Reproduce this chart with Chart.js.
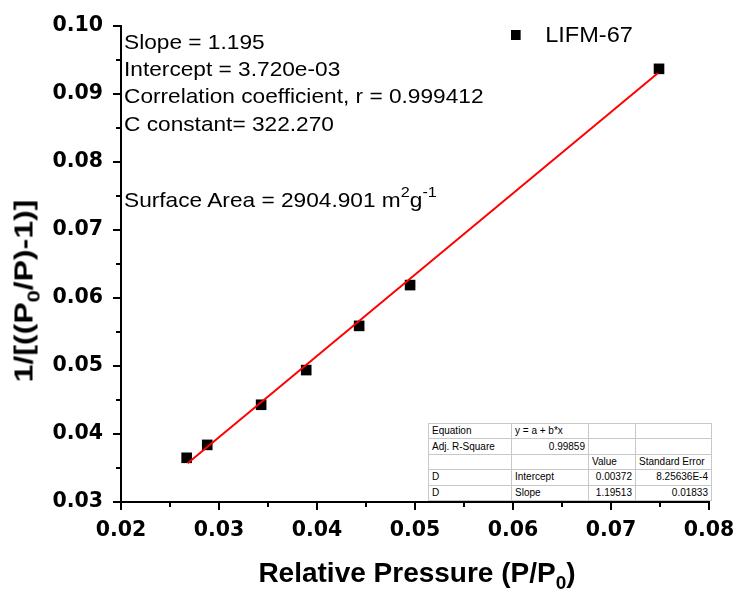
<!DOCTYPE html>
<html>
<head>
<meta charset="utf-8">
<script src="https://cdn.jsdelivr.net/npm/chart.js@4"></script>
<style>
  body{margin:0;background:#fff;font-family:"Liberation Sans",Arial,sans-serif}
  #wrap{position:relative;width:742px;height:597px}
  canvas{position:absolute;left:0;top:0}
  .ann{position:absolute;left:124px;font-size:21px;color:#000;white-space:nowrap;line-height:1;transform:scaleX(1.08);transform-origin:left center}
  .ann sup{font-size:15px;vertical-align:10px}
  #ytitle{position:absolute;left:27px;top:291px;transform:translate(-50%,-50%) rotate(-90deg) scaleX(1.28);font-weight:bold;font-size:25px;white-space:nowrap;line-height:1}
  #xtitle{position:absolute;left:417px;top:576px;transform:translate(-50%,-50%);font-weight:bold;font-size:28px;white-space:nowrap;line-height:1}
  sub{font-size:68%;vertical-align:-7px}
  #legend{position:absolute;left:511px;top:24px;font-size:22px;white-space:nowrap;line-height:1;transform:scaleX(1.07);transform-origin:left center}
  #legend span.mk{display:inline-block;width:9px;height:10px;background:#000;margin-right:23px;vertical-align:2px}
  #fit{position:absolute;left:428px;top:423px;border-collapse:collapse;font-size:10px;border:1px solid #000;background:#fff}
  #fit td{border:1px solid #c8c8c8;padding:0 3px;height:14.4px;line-height:1;white-space:nowrap}
  #fit td.r{text-align:right}
</style>
</head>
<body>
<div id="wrap">
  <canvas id="chart" width="742" height="597"></canvas>
  <div class="ann" style="top:31px">Slope = 1.195</div>
  <div class="ann" style="top:58px">Intercept = 3.720e-03</div>
  <div class="ann" style="top:85px">Correlation coefficient, r = 0.999412</div>
  <div class="ann" style="top:113px">C constant= 322.270</div>
  <div class="ann" style="top:184px">Surface Area = 2904.901 m<sup>2</sup>g<sup>-1</sup></div>
  <div id="legend"><span class="mk"></span>LIFM-67</div>
  <div id="ytitle">1/[((P<sub>0</sub>/P)-1)]</div>
  <div id="xtitle">Relative Pressure (P/P<sub>0</sub>)</div>
  <table id="fit">
    <tr><td style="width:76px">Equation</td><td style="width:70px">y = a + b*x</td><td style="width:40px"></td><td style="width:69px"></td></tr>
    <tr><td>Adj. R-Square</td><td class="r">0.99859</td><td></td><td></td></tr>
    <tr><td></td><td></td><td>Value</td><td>Standard Error</td></tr>
    <tr><td>D</td><td>Intercept</td><td class="r">0.00372</td><td class="r">8.25636E-4</td></tr>
    <tr><td>D</td><td>Slope</td><td class="r">1.19513</td><td class="r">0.01833</td></tr>
  </table>
</div>
<script>
// measured points (P/P0 vs 1/[(P0/P)-1])
const pressure = [0.0267, 0.0288, 0.0343, 0.0389, 0.0443, 0.0495, 0.0749];
const betY = [0.0365, 0.0384, 0.0443, 0.0494, 0.0559, 0.0619, 0.0937];
// fitted line ends
const fitX = [0.0268, 0.0748];
const fitY = [0.0357, 0.0931];

const xTicks = [0.02, 0.03, 0.04, 0.05, 0.06, 0.07, 0.08];
const xTickLabels = ['0.02', '0.03', '0.04', '0.05', '0.06', '0.07', '0.08'];
const yTicks = [0.03, 0.04, 0.05, 0.06, 0.07, 0.08, 0.09, 0.10];
const yTickLabels = ['0.03', '0.04', '0.05', '0.06', '0.07', '0.08', '0.09', '0.10'];

const tickFont = {family:'"DejaVu Sans"', size:20.5, weight:'bold'};

// draw major + minor tick marks outside the axes
const tickMarks = {
  id:'tickMarks',
  afterDraw(chart){
    const ctx = chart.ctx, xs = chart.scales.x, ys = chart.scales.y;
    const area = chart.chartArea;
    ctx.save();
    ctx.strokeStyle = '#000';
    ctx.lineWidth = 2;
    ctx.beginPath();
    xTicks.forEach((v,i)=>{
      const px = Math.round(xs.getPixelForValue(v));
      ctx.moveTo(px, area.bottom); ctx.lineTo(px, area.bottom + 8);
      if(i < xTicks.length-1){
        const mx = Math.round(xs.getPixelForValue((v + xTicks[i+1])/2));
        ctx.moveTo(mx, area.bottom); ctx.lineTo(mx, area.bottom + 5);
      }
    });
    yTicks.forEach((v,i)=>{
      const py = Math.round(ys.getPixelForValue(v));
      ctx.moveTo(area.left, py); ctx.lineTo(area.left - 8, py);
      if(i < yTicks.length-1){
        const my = Math.round(ys.getPixelForValue((v + yTicks[i+1])/2));
        ctx.moveTo(area.left, my); ctx.lineTo(area.left - 5, my);
      }
    });
    ctx.stroke();
    ctx.restore();
  }
};

const chart = new Chart(document.getElementById('chart'), {
  type:'scatter',
  data:{
    datasets:[
      { type:'line', label:'fit', data: fitX.map((x,i)=>({x, y:fitY[i]})), borderColor:'#ff0000', borderWidth:2, pointRadius:0, fill:false, order:0 },
      { label:'LIFM-67', data: pressure.map((x,i)=>({x, y:betY[i]})), pointStyle:'rect', pointRadius:7.5, backgroundColor:'#000', borderColor:'#000', borderWidth:0, order:1 }
    ]
  },
  options:{
    responsive:false,
    animation:false,
    layout:{padding:{top:26, right:33, left:0, bottom:0}},
    plugins:{legend:{display:false}, tooltip:{enabled:false}},
    scales:{
      x:{
        type:'linear', min:0.02, max:0.08,
        afterBuildTicks: s => { s.ticks = xTicks.map(v=>({value:v})); },
        afterFit: s => { s.height = 95; s.paddingLeft = 0; s.paddingRight = 0; },
        ticks:{ callback:(v,i)=>xTickLabels[i], font:tickFont, color:'#000', padding:16, maxRotation:0, autoSkip:false },
        grid:{ display:false, drawTicks:false },
        border:{ display:true, color:'#000', width:2 }
      },
      y:{
        type:'linear', min:0.03, max:0.10,
        afterBuildTicks: s => { s.ticks = yTicks.map(v=>({value:v})); },
        afterFit: s => { s.width = 121; s.paddingTop = 0; s.paddingBottom = 0; },
        ticks:{ callback:(v,i)=>yTickLabels[i], font:tickFont, color:'#000', padding:18, autoSkip:false },
        grid:{ display:false, drawTicks:false },
        border:{ display:true, color:'#000', width:2 }
      }
    }
  },
  plugins:[tickMarks]
});
</script>
</body>
</html>
